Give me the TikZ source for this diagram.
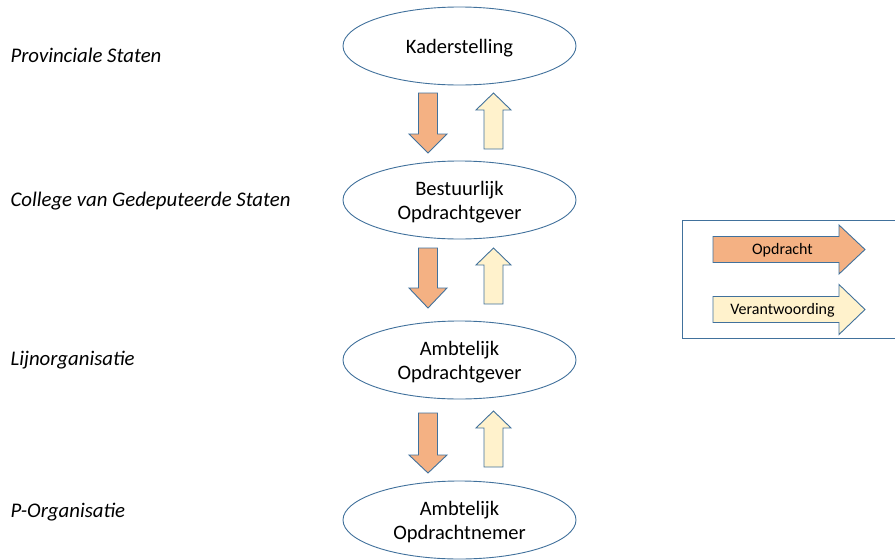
\documentclass[tikz,border=0pt]{standalone}
\usepackage{fontspec}
\setmainfont{Carlito}
\usetikzlibrary{shapes.geometric}
\definecolor{edgeblue}{HTML}{41719C}
\definecolor{orangefill}{HTML}{F4B183}
\definecolor{creamfill}{HTML}{FFF2CC}
\tikzset{
  level/.style={ellipse, draw=edgeblue, line width=0.9pt, fill=white,
    minimum width=233pt, minimum height=78pt, inner sep=0pt,
    font=\fontsize{20.5}{25}\selectfont, align=center},
  side/.style={anchor=base west, font=\fontsize{20.8}{25}\selectfont\itshape},
  arrowshape/.style={draw=edgeblue, line width=0.9pt, line join=miter},
  legendtext/.style={font=\fontsize{16}{19}\selectfont, inner sep=0pt},
}
\newcommand\lowered[1]{\raisebox{-2pt}[\height][\depth]{#1}}
% vertical block arrow: #1 fill, #2 x-center, #3 shaft half width, #4 head half width, #5 start y, #6 head base y, #7 tip y
\newcommand\blockarrowv[7]{%
  \draw[arrowshape, fill=#1] (#2-#3,#5) -- (#2+#3,#5) -- (#2+#3,#6) -- (#2+#4,#6)
    -- (#2,#7) -- (#2-#4,#6) -- (#2-#3,#6) -- cycle;}
% horizontal block arrow: #1 fill, #2 y-center, #3 shaft half height, #4 head half height, #5 tail x, #6 head base x, #7 tip x
\newcommand\blockarrowh[7]{%
  \draw[arrowshape, fill=#1] (#5,#2-#3) -- (#6,#2-#3) -- (#6,#2-#4) -- (#7,#2)
    -- (#6,#2+#4) -- (#6,#2+#3) -- (#5,#2+#3) -- cycle;}
\begin{document}
\begin{tikzpicture}[x=1pt,y=-1pt]
\useasboundingbox (0,0) rectangle (895,560);
% level ellipses
\node[level] (k) at (459.5,46) {\lowered{Kaderstelling}};
\node[level] (b) at (459.5,200) {\lowered{\shortstack{Bestuurlijk\\[3.5pt]Opdrachtgever}}};
\node[level] (a) at (459.5,360) {\lowered{\shortstack{Ambtelijk\\[3.5pt]Opdrachtgever}}};
\node[level] (n) at (459.5,520) {\lowered{\shortstack{Ambtelijk\\[3.5pt]Opdrachtnemer}}};
% side labels
\node[side] (ps) at (7,62) {Provinciale Staten};
\node[side] (cg) at (7,206) {College van Gedeputeerde Staten};
\node[side] (lo) at (7,365) {Lijnorganisatie};
\node[side] (po) at (7,517) {P-Organisatie};
% arrows between levels
\blockarrowv{orangefill}{428}{9.5}{19}{93}{134}{153}
\blockarrowv{creamfill}{493.5}{9.5}{17.5}{149}{110}{93}
\blockarrowv{orangefill}{428}{9.5}{19}{248}{288}{308}
\blockarrowv{creamfill}{493.5}{9.5}{17.5}{304}{265}{248}
\blockarrowv{orangefill}{428}{9.5}{19}{413}{455}{473}
\blockarrowv{creamfill}{493.5}{9.5}{17.5}{467}{428}{411}
% legend
\draw[draw=edgeblue, line width=0.9pt] (682,220) rectangle (898,338);
\blockarrowh{orangefill}{249.5}{13}{24.5}{713}{839}{865}
\blockarrowh{creamfill}{309.5}{13}{25}{713}{839}{865}
\node[legendtext] (lt1) at (782.5,250) {Opdracht};
\node[legendtext] (lt2) at (782.5,310) {Verantwoording};
\end{tikzpicture}
\end{document}
